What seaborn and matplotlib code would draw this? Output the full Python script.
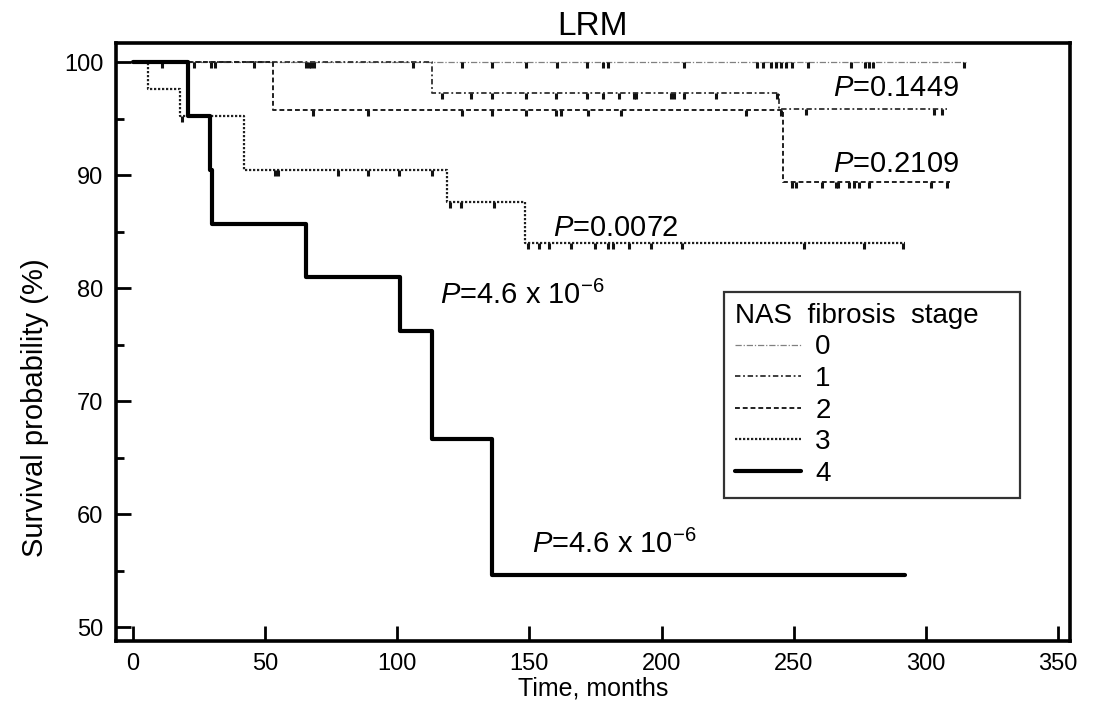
import matplotlib
matplotlib.use("Agg")
import matplotlib.pyplot as plt
import numpy as np
import pandas as pd
import seaborn as sns
from matplotlib.path import Path as MPath
from matplotlib.ticker import MultipleLocator

# Kaplan-Meier steps per NAS fibrosis stage: time (months) of each step and survival (%) after it.
# First point is t=0, last point is the end of follow-up.
STAGE0_T = [0, 315]
STAGE0_S = [100, 100]
STAGE0_CENS = [11, 23, 29.5, 31, 46, 65.5, 66.5, 67.5, 68.5, 106, 124.5, 136, 148.7, 160.4,
               171.8, 177.8, 179.7, 208.5, 236, 238.4, 241.4, 243.3, 245.2, 247, 249.3,
               255.4, 271.6, 277, 278.5, 280, 314.4]

STAGE1_T = [0, 113, 244.5, 308]
STAGE1_S = [100, 97.3, 95.9, 95.9]
STAGE1_CENS = [117, 128, 136, 148.7, 160, 171.8, 178, 184, 189.6, 190.3, 203.6, 204.7,
               208.5, 220.6, 243.7, 254.6, 303, 306]

STAGE2_T = [0, 53, 246, 309]
STAGE2_S = [100, 95.8, 89.4, 89.4]
STAGE2_CENS = [68, 89, 124.5, 136, 148.7, 160, 162, 172, 184.6, 232, 245, 249.4, 250.9,
               260.7, 266, 266.7, 271, 272.8, 274.7, 278.5, 302, 308]

STAGE3_T = [0, 5.7, 18, 42, 119, 148.3, 292]
STAGE3_S = [100, 97.6, 95.2, 90.5, 87.6, 84.0, 84.0]
STAGE3_CENS = [18.5, 53.7, 54.9, 77.6, 89, 100.6, 113, 120, 124, 136.6, 149.5, 153.6,
               157.4, 165.7, 175, 179.7, 181.6, 187.7, 196, 207.7, 253.9, 276.6, 291.5]

STAGE4_T = [0, 21, 29, 30, 65.4, 101, 113, 136, 292]
STAGE4_S = [100, 95.2, 90.5, 85.7, 81.0, 76.2, 66.7, 54.6, 54.6]
STAGE4_CENS = []

STAGES = ["0", "1", "2", "3", "4"]
P_LABELS = [r"$P$=0.1449", r"$P$=0.2109", r"$P$=0.0072",
            r"$P$=4.6 x 10$^{-6}$", r"$P$=4.6 x 10$^{-6}$"]
P_POS = [(265, 97.7), (265, 91.0), (159, 85.3), (116, 79.4), (151, 57.3)]

curves = [
    (STAGE0_T, STAGE0_S, STAGE0_CENS),
    (STAGE1_T, STAGE1_S, STAGE1_CENS),
    (STAGE2_T, STAGE2_S, STAGE2_CENS),
    (STAGE3_T, STAGE3_S, STAGE3_CENS),
    (STAGE4_T, STAGE4_S, STAGE4_CENS),
]
styles = [
    dict(ls=(0, (5, 1.5, 1, 1.5)), lw=0.9, color="#808080"),
    dict(ls=(0, (3, 1.5, 1, 1.5)), lw=1.3, color="#303030"),
    dict(ls=(0, (2.5, 1.5)), lw=1.4, color="#202020"),
    dict(ls=(0, (1, 0.8)), lw=1.6, color="#202020"),
    dict(ls="-", lw=3.0, color="black"),
]

sns.set_theme(style="white")
plt.rcParams["font.family"] = ["Liberation Sans", "DejaVu Sans"]
plt.rcParams["mathtext.fontset"] = "custom"
plt.rcParams["mathtext.rm"] = "Liberation Sans"
plt.rcParams["mathtext.it"] = "Liberation Sans:italic"
for key in ("text.color", "axes.labelcolor", "xtick.color", "ytick.color"):
    plt.rcParams[key] = "black"

fig = plt.figure(figsize=(10.97, 7.07), dpi=100)
ax = fig.add_axes([0.1057, 0.0934, 0.8697, 0.8458])

# censor tick: short vertical mark hanging below the curve
cens_marker = MPath([(0, 0), (0, -1)])

for stage, (t, s, cens), st in zip(STAGES, curves, styles):
    df = pd.DataFrame({"t": t, "s": s})
    sns.lineplot(data=df, x="t", y="s", ax=ax, estimator=None, drawstyle="steps-post",
                 linestyle=st["ls"], linewidth=st["lw"], color=st["color"], label=stage)
    if cens:
        ta, sa = np.asarray(t), np.asarray(s)
        idx = np.searchsorted(ta, cens, side="right") - 1
        ax.plot(cens, sa[idx], linestyle="none", marker=cens_marker, markersize=9,
                markeredgewidth=2.2, color="#111111")

for txt, (x, y) in zip(P_LABELS, P_POS):
    ax.text(x, y, txt, fontsize=21, va="center", ha="left")

ax.set_xlim(-6.4, 354.5)
ax.set_ylim(48.8, 101.7)
ax.xaxis.set_major_locator(MultipleLocator(50))
ax.yaxis.set_major_locator(MultipleLocator(10))
ax.yaxis.set_minor_locator(MultipleLocator(5))
ax.tick_params(axis="both", which="major", direction="in", length=11, width=2,
               labelsize=17, color="black")
ax.tick_params(axis="x", pad=9, bottom=True, top=False)
ax.tick_params(axis="y", pad=9, left=True, right=False)
ax.tick_params(axis="y", which="minor", direction="in", length=6, width=2, left=True)
for sp in ax.spines.values():
    sp.set_color("black")
    sp.set_linewidth(2.6)

ax.set_title("LRM", fontsize=24, pad=6)
ax.set_ylabel("Survival probability (%)", fontsize=21)
ax.yaxis.set_label_coords(-0.07, 0.39)
ax.set_xlabel("Time, months", fontsize=18, labelpad=1)

leg = ax.legend(title="NAS  fibrosis  stage", loc="upper left",
                bbox_to_anchor=(0.637, 0.584, 0.311, 0), mode="expand", borderaxespad=0,
                fontsize=20, title_fontsize=20, alignment="left", frameon=True,
                fancybox=False, edgecolor="black", handlelength=2.4,
                labelspacing=0.2, borderpad=0.4, handletextpad=0.5)
leg.get_frame().set_linewidth(1.6)

fig.savefig("out.png", dpi=100)
